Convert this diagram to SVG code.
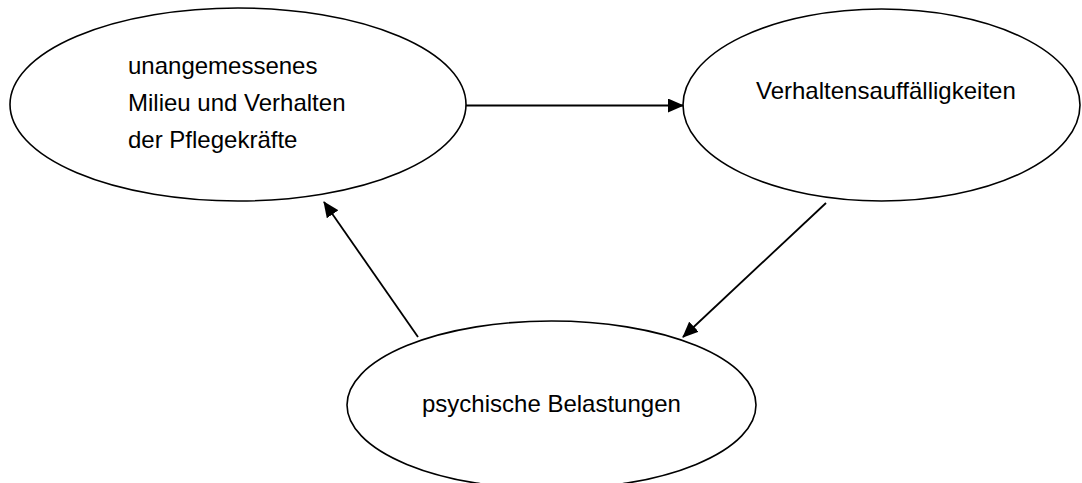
<svg xmlns="http://www.w3.org/2000/svg" width="1082" height="483" viewBox="0 0 1082 483">
<style>
.node{fill:#fff;stroke:#000;stroke-width:1.6}
.lbl{font-family:"Liberation Sans",Arial,sans-serif;font-size:24px;fill:#000}
.edge{stroke:#000;stroke-width:1.8;fill:none}
</style>
<defs>
<marker id="ah" markerUnits="userSpaceOnUse" markerWidth="16" markerHeight="14" refX="15" refY="7" orient="auto">
<path d="M0,0 L16,7 L0,14 Z" fill="#000"/>
</marker>
</defs>
<rect width="1082" height="483" fill="#fff"/>
<g id="n1">
<ellipse class="node" cx="238" cy="104.5" rx="228" ry="96.5"/>
<text class="lbl" x="128" y="74">unangemessenes</text>
<text class="lbl" x="128" y="111">Milieu und Verhalten</text>
<text class="lbl" x="128" y="148">der Pflegekräfte</text>
</g>
<g id="n2">
<ellipse class="node" cx="881.5" cy="105" rx="198.5" ry="96"/>
<text class="lbl" x="756" y="99">Verhaltensauffälligkeiten</text>
</g>
<g id="n3">
<ellipse class="node" cx="551.5" cy="405" rx="204.5" ry="84"/>
<text class="lbl" x="422" y="412">psychische Belastungen</text>
</g>
<g id="edges">
<line class="edge" x1="466" y1="105.5" x2="683" y2="105.5" marker-end="url(#ah)"/>
<line class="edge" x1="826" y1="203" x2="683" y2="337" marker-end="url(#ah)"/>
<line class="edge" x1="418" y1="337" x2="324" y2="202" marker-end="url(#ah)"/>
</g>
</svg>
